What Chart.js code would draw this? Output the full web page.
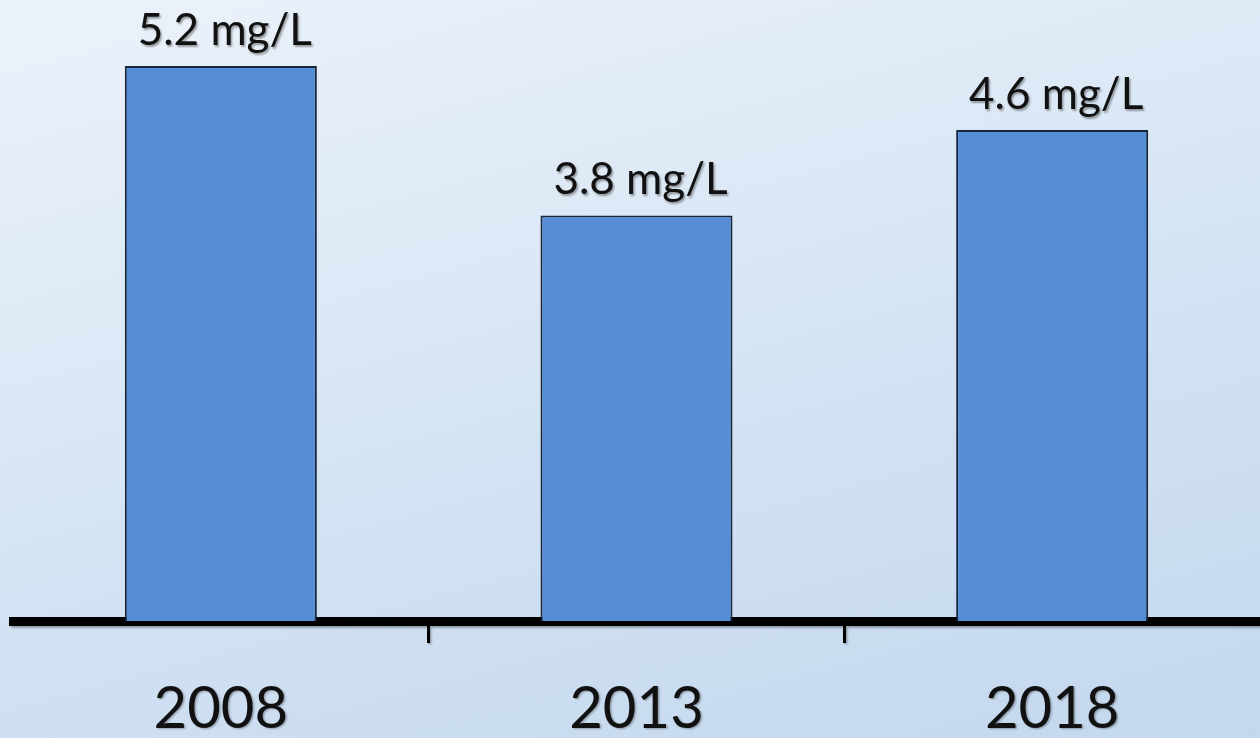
<!DOCTYPE html>
<html>
<head>
<meta charset="utf-8">
<script src="https://cdn.jsdelivr.net/npm/chart.js@4.4.1/dist/chart.umd.min.js"></script>
<style>
  html, body { margin: 0; padding: 0; }
  body {
    width: 1260px; height: 738px; overflow: hidden;
    background: linear-gradient(165deg, #ecf2fa 0%, #d8e6f4 45%, #c3d7ee 100%);
  }
  #wrap { position: relative; width: 1260px; height: 738px; }
</style>
</head>
<body>
<div id="wrap"><canvas id="chart"></canvas></div>
<script>
// concentration by survey year
const years = ['2008', '2013', '2018'];
const values = [5.2, 3.8, 4.6];
const unit = 'mg/L';

const FONT = 'Lato, "Open Sans", sans-serif';

// value labels above each bar
const valueLabels = {
  id: 'valueLabels',
  afterDatasetsDraw(chart) {
    const ctx = chart.ctx;
    const meta = chart.getDatasetMeta(0);
    ctx.save();
    ctx.font = '44px ' + FONT;
    ctx.fillStyle = '#111';
    ctx.textAlign = 'center';
    ctx.textBaseline = 'alphabetic';
    ctx.shadowColor = 'rgba(0,0,0,0.35)';
    ctx.shadowOffsetX = 1.5;
    ctx.shadowOffsetY = 1.5;
    ctx.shadowBlur = 2;
    meta.data.forEach((bar, i) => {
      ctx.fillText(values[i].toFixed(1) + ' ' + unit, bar.x + 4, bar.y - 21);
    });
    ctx.restore();
  }
};

// soft shadow on the axis text
const axisShadow = {
  id: 'axisShadow',
  beforeDraw(chart) {
    const ctx = chart.ctx;
    ctx.save();
    ctx.shadowColor = 'rgba(0,0,0,0.3)';
    ctx.shadowOffsetX = 1.5;
    ctx.shadowOffsetY = 1.5;
    ctx.shadowBlur = 2;
  },
  beforeDatasetsDraw(chart) {
    chart.ctx.restore();
  }
};

new Chart(document.getElementById('chart'), {
  type: 'bar',
  data: {
    labels: years,
    datasets: [{
      data: values,
      backgroundColor: '#558ed5',
      borderColor: '#17253d',
      borderWidth: 2,
      categoryPercentage: 1,
      barPercentage: 0.462
    }]
  },
  options: {
    responsive: true,
    maintainAspectRatio: false,
    animation: false,
    layout: { padding: { left: 13, right: 0, top: 2, bottom: 0 } },
    plugins: {
      legend: { display: false },
      tooltip: { enabled: false }
    },
    scales: {
      x: {
        afterFit(scale) { scale.height = 117; },
        border: { display: true, color: '#000', width: 9 },
        grid: {
          offset: true,
          drawOnChartArea: false,
          drawTicks: true,
          tickLength: 22,
          lineWidth: 3,
          color: c => (c.index > 0 ? '#000' : 'rgba(0,0,0,0)')
        },
        ticks: {
          color: '#111',
          font: { family: FONT, size: 58 },
          padding: 31
        }
      },
      y: {
        display: false,
        min: 0,
        max: 5.8
      }
    }
  },
  plugins: [axisShadow, valueLabels]
});
</script>
</body>
</html>
